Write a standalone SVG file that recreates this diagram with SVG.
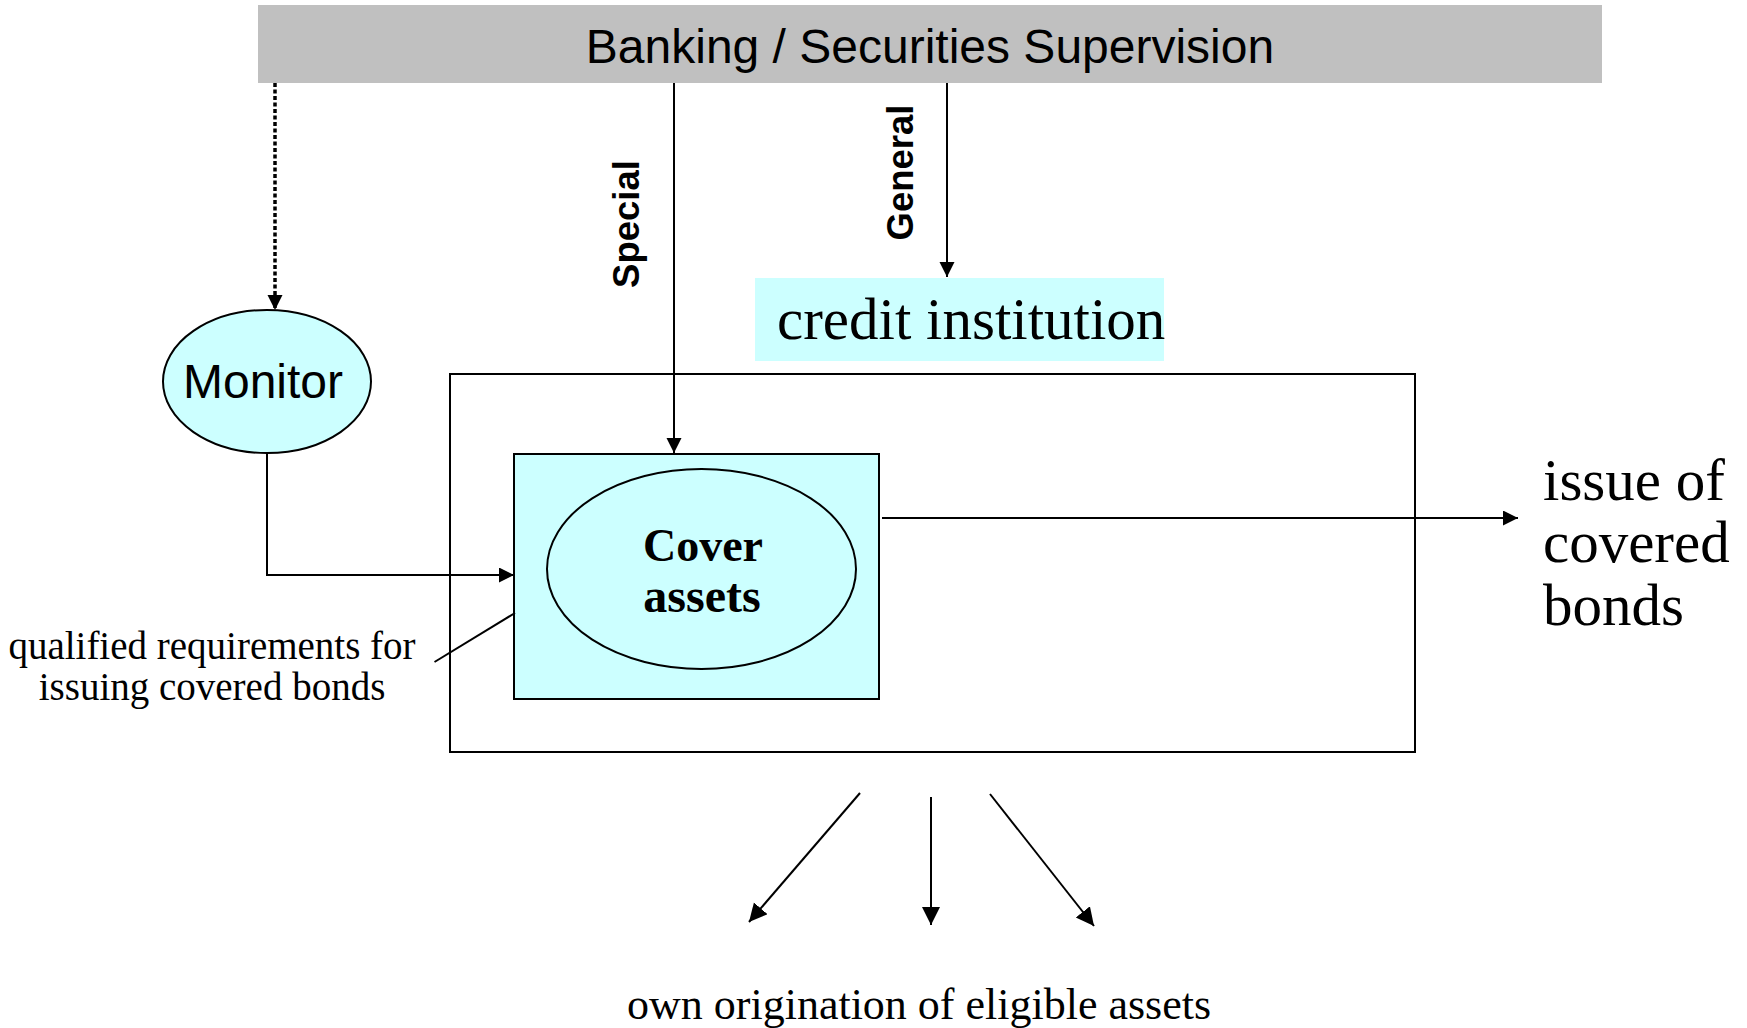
<svg xmlns="http://www.w3.org/2000/svg" width="1747" height="1028" viewBox="0 0 1747 1028">
<style>
.sans{font-family:"Liberation Sans",Arial,sans-serif;fill:#000}
.serif{font-family:"Liberation Serif","Times New Roman",serif;fill:#000}
.conn{fill:none;stroke:#000;stroke-width:2}
.cyan{fill:#CCFFFF}
</style>
<defs>
<marker id="ah" markerUnits="userSpaceOnUse" markerWidth="16" markerHeight="16" refX="15" refY="7.5" orient="auto">
<path d="M0,0 L15,7.5 L0,15 z" fill="#000"/>
</marker>
<marker id="ahb" markerUnits="userSpaceOnUse" markerWidth="20" markerHeight="20" refX="18" refY="9" orient="auto">
<path d="M0,0 L18,9 L0,18 z" fill="#000"/>
</marker>
</defs>
<rect width="1747" height="1028" fill="#fff"/>

<g id="supervision">
<rect x="258" y="5" width="1344" height="78" fill="#C0C0C0"/>
<text class="sans" x="930" y="63" font-size="48" text-anchor="middle">Banking / Securities Supervision</text>
</g>

<g id="credit-institution-box">
<rect x="450" y="374" width="965" height="378" fill="none" stroke="#000" stroke-width="2"/>
</g>

<g id="credit-institution">
<rect class="cyan" x="755" y="278" width="409" height="83"/>
<text class="serif" x="777" y="339" font-size="59">credit institution</text>
</g>

<g id="monitor">
<ellipse class="cyan" cx="267" cy="381.5" rx="104" ry="71.5" stroke="#000" stroke-width="2"/>
<text class="sans" x="263" y="398" font-size="48" text-anchor="middle">Monitor</text>
</g>

<g id="cover-pool">
<rect class="cyan" x="514" y="454" width="365" height="245" stroke="#000" stroke-width="2"/>
<ellipse class="cyan" cx="701.5" cy="569" rx="154.5" ry="100" stroke="#000" stroke-width="2"/>
<text class="serif" x="703" y="561" font-size="46" font-weight="bold" text-anchor="middle">Cover</text>
<text class="serif" x="702" y="612" font-size="48" font-weight="bold" text-anchor="middle">assets</text>
</g>

<g id="labels">
<text class="sans" font-size="36.5" font-weight="bold" text-anchor="middle" transform="translate(639,224) rotate(-90)">Special</text>
<text class="sans" font-size="36.5" font-weight="bold" text-anchor="middle" transform="translate(913,172.5) rotate(-90)">General</text>
<text class="serif" x="212" y="659" font-size="39" text-anchor="middle">qualified requirements for</text>
<text class="serif" x="212" y="700" font-size="39" text-anchor="middle">issuing covered bonds</text>
<text class="serif" x="1543" y="500" font-size="59">issue of</text>
<text class="serif" x="1543" y="562" font-size="59">covered</text>
<text class="serif" x="1543" y="625" font-size="59">bonds</text>
<text class="serif" x="627" y="1019" font-size="44">own origination of eligible assets</text>
</g>

<g id="connectors">
<line x1="275" y1="83" x2="275" y2="310" fill="none" stroke="#000" stroke-width="3.5" stroke-dasharray="4 2.5" marker-end="url(#ah)"/>
<line class="conn" x1="674" y1="83" x2="674" y2="453" marker-end="url(#ah)"/>
<line class="conn" x1="947" y1="83" x2="947" y2="277" marker-end="url(#ah)"/>
<path class="conn" d="M267,453 V575 H514" marker-end="url(#ah)"/>
<line class="conn" x1="434.5" y1="662" x2="515" y2="613"/>
<line class="conn" x1="882" y1="518" x2="1518" y2="518" marker-end="url(#ah)"/>
<line class="conn" x1="860" y1="793" x2="749" y2="922" marker-end="url(#ahb)"/>
<line class="conn" x1="931" y1="797" x2="931" y2="925" marker-end="url(#ahb)"/>
<line class="conn" x1="990" y1="794" x2="1094" y2="926" marker-end="url(#ahb)"/>
</g>
</svg>
